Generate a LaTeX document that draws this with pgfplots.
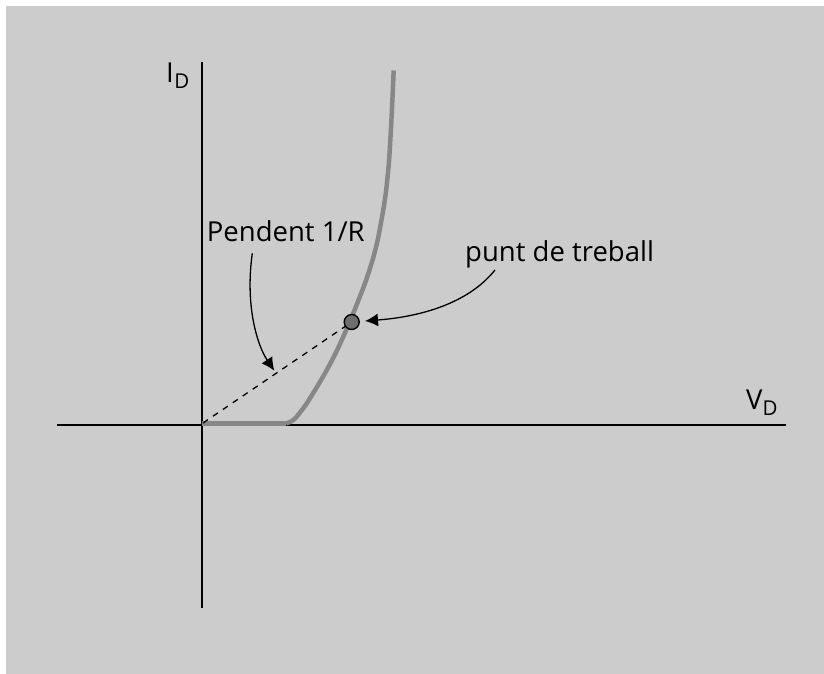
\documentclass[border=0pt]{standalone}
\usepackage{fontspec}
\setmainfont{Open Sans}
\usepackage{pgfplots}
\pgfplotsset{compat=1.18}
\usetikzlibrary{arrows.meta}
\definecolor{bg}{HTML}{CCCCCC}
\definecolor{curve}{HTML}{878787}
\definecolor{dot}{HTML}{6E6E6E}
\begin{document}
\begin{tikzpicture}
\begin{axis}[
  width=824pt, height=674pt, scale only axis,
  xmin=-202, xmax=622, ymin=-249, ymax=425,
  hide axis, clip=false,
]
\coordinate (BL) at (axis cs:-202,-249);
\coordinate (TR) at (axis cs:622,425);
\fill[white] (axis cs:-202,-249) rectangle (axis cs:622,425);
\fill[bg] (axis cs:-196,-270) rectangle (axis cs:645,419);
% axes
\addplot[black, line width=1.8pt] coordinates {(-144.7,0) (583.7,0)};
\addplot[black, line width=1.8pt] coordinates {(0,-183) (0,363.3)};
% diode characteristic
\addplot[curve, line width=4.5pt] coordinates {(0,1.5) (84,1.5)};
\addplot[curve, line width=4.5pt, smooth, tension=0.4] coordinates {
 (84,1.5) (89,3.5) (94,7.5) (104,20.5) (114,36.5) (124,53.5) (134,72.5)
 (144,94.5) (154,118.5) (164,144.5) (171,166.5) (176,186.5) (181,213.5)
 (184,233.5) (187,263.5) (189.5,306.5) (191.7,354.5)};
% load line
\addplot[black, line width=1.3pt, dash pattern=on 6pt off 6pt] coordinates {(1,2) (149.7,103)};
% operating point
\addplot[only marks, mark=*, mark size=7.5pt, mark options={fill=dot, draw=black, line width=1.4pt}] coordinates {(149.7,103)};
% annotations
\draw[black, line width=1.3pt, -{Latex[length=13pt,width=13pt]}]
  (axis cs:50.3,171.7) .. controls (axis cs:43,120) and (axis cs:55,80) .. (axis cs:72.3,54.3);
\draw[black, line width=1.3pt, -{Latex[length=13pt,width=13pt]}]
  (axis cs:293,155) .. controls (axis cs:265,120) and (axis cs:215,108) .. (axis cs:163,104);
\node[anchor=base west, inner sep=0pt, font=\fontsize{27.5}{30}\selectfont] at (axis cs:4.7,183.3) {Pendent 1/R};
\node[anchor=base west, inner sep=0pt, font=\fontsize{27.5}{30}\selectfont] at (axis cs:263,163.3) {punt de treball};
\node[anchor=base west, inner sep=0pt, font=\fontsize{27.5}{30}\selectfont] at (axis cs:-36,342.7) {I\kern0.5pt\raisebox{-6.7pt}{\fontsize{20.5}{22}\selectfont D}};
\node[anchor=base west, inner sep=0pt, font=\fontsize{27.5}{30}\selectfont] at (axis cs:544,15) {V\raisebox{-5.7pt}{\fontsize{20.5}{22}\selectfont D}};
\end{axis}
\pgfresetboundingbox
\path[use as bounding box] (BL) rectangle (TR);
\end{tikzpicture}
\end{document}
